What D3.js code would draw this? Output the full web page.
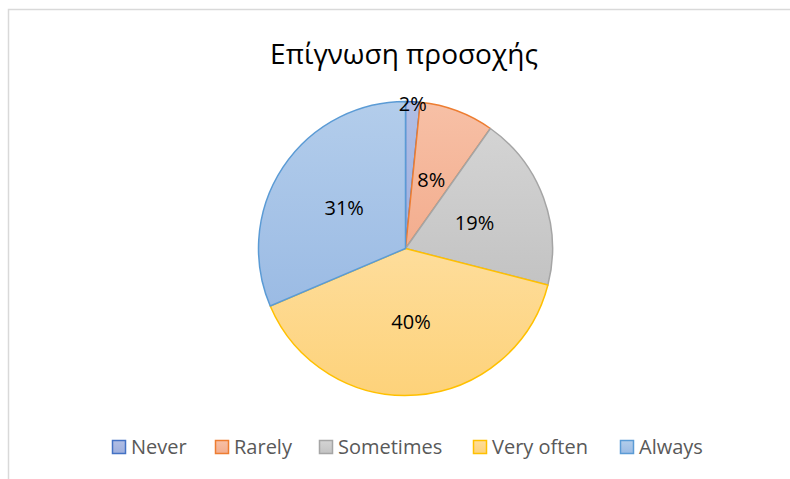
<!DOCTYPE html>
<html>
<head>
<meta charset="utf-8">
<script src="https://cdn.jsdelivr.net/npm/d3@7"></script>
<style>
  body { margin: 0; background: #fff; }
  text { font-family: "Open Sans", "Noto Sans", sans-serif; }
</style>
</head>
<body>
<script>
// chart values
const TITLE = 'Επίγνωση προσοχής';
const categories = ['Never', 'Rarely', 'Sometimes', 'Very often', 'Always'];
const shares = [1.6, 8.2, 19.2, 39.6, 31.4];
const labels = ['2%', '8%', '19%', '40%', '31%'];
const strokeColors = ['#4472c4', '#ed7d31', '#a5a5a5', '#ffc000', '#5b9bd5'];
const fillTop = ['#b1bee5', '#f7c0a6', '#d4d4d4', '#fedd9b', '#b3cdeb'];
const fillBottom = ['#9eafdd', '#f3ad8e', '#c3c3c3', '#fdd27a', '#9bbbe4'];

function main()
{
    const W = 790, H = 479;
    const svg = d3.select('body')
        .append('svg')
        .attr('width', W)
        .attr('height', H);

    // chart area frame (only top and left edges are in view)
    svg.append('path')
        .attr('d', `M8.5,${H} V9.5 H${W}`)
        .attr('fill', 'none')
        .attr('stroke', '#d9d9d9')
        .attr('stroke-width', 1.5);

    svg.append('text')
        .attr('x', 404)
        .attr('y', 64)
        .attr('text-anchor', 'middle')
        .attr('font-size', 28)
        .attr('fill', '#000')
        .text(TITLE);

    const defs = svg.append('defs');
    categories.forEach((c, i) => {
        const g = defs.append('linearGradient')
            .attr('id', 'grad' + i)
            .attr('x1', 0).attr('y1', 0)
            .attr('x2', 0).attr('y2', 1);
        g.append('stop').attr('offset', '0%').attr('stop-color', fillTop[i]);
        g.append('stop').attr('offset', '100%').attr('stop-color', fillBottom[i]);
    });

    const cx = 405.5, cy = 248.5, r = 147;
    const pie = d3.pie().sort(null).value(d => d)(shares);
    const arc = d3.arc().innerRadius(0).outerRadius(r);

    const gPie = svg.append('g')
        .attr('transform', `translate(${cx},${cy})`);

    gPie.selectAll('path')
        .data(pie).enter().append('path')
        .attr('d', arc)
        .attr('fill', (d, i) => `url(#grad${i})`)
        .attr('stroke', (d, i) => strokeColors[i])
        .attr('stroke-width', 1.5)
        .attr('stroke-linejoin', 'round');

    // labels: at half radius, tiny slices pushed to the rim
    gPie.selectAll('text')
        .data(pie).enter().append('text')
        .attr('transform', d => {
            const frac = (d.endAngle - d.startAngle) / (2 * Math.PI);
            const rr = frac < 0.05 ? r * 0.985 : r * 0.5;
            const a = (d.startAngle + d.endAngle) / 2;
            return `translate(${rr * Math.sin(a)},${-rr * Math.cos(a)})`;
        })
        .attr('text-anchor', 'middle')
        .attr('dy', '0.35em')
        .attr('font-size', 20)
        .attr('fill', '#000')
        .text((d, i) => labels[i]);

    // legend, one entry per category along the bottom
    const legendX = [112, 215, 319, 473, 620];
    const legend = svg.append('g')
        .attr('transform', 'translate(0,447)');
    const items = legend.selectAll('g')
        .data(categories).enter().append('g')
        .attr('transform', (d, i) => `translate(${legendX[i]},0)`);
    items.append('rect')
        .attr('x', 0.5).attr('y', -6.5)
        .attr('width', 13).attr('height', 13)
        .attr('fill', (d, i) => `url(#grad${i})`)
        .attr('stroke', (d, i) => strokeColors[i])
        .attr('stroke-width', 1.5);
    items.append('text')
        .attr('x', 19)
        .attr('y', 0)
        .attr('dy', '0.35em')
        .attr('font-size', 20)
        .attr('fill', '#595959')
        .text(d => d);
}

main();
</script>
</body>
</html>
